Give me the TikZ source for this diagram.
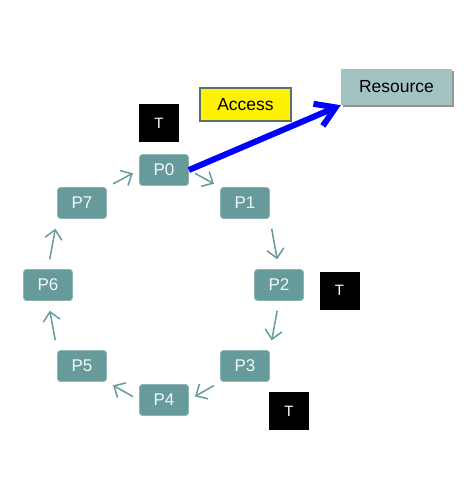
\documentclass[tikz,border=0pt]{standalone}
\usepackage{fontspec}
\setmainfont{Liberation Sans}
\definecolor{pteal}{RGB}{103,154,154}
\definecolor{pedge}{RGB}{140,180,180}
\definecolor{ptext}{RGB}{242,248,248}
\definecolor{resfill}{RGB}{163,194,194}
\definecolor{accedge}{RGB}{90,112,112}
\usetikzlibrary{positioning,shadows,arrows.meta}

\begin{document}
\begin{tikzpicture}[x=1pt,y=-1pt,
  pnode/.style={draw=pedge,line width=0.8pt,fill=pteal,text=ptext,rounded corners=3pt,
    minimum width=49pt,minimum height=31pt,font=\fontsize{17}{20}\selectfont},
  tnode/.style={fill=black,text=white,minimum width=40pt,minimum height=38pt,
    font=\fontsize{15}{18}\selectfont},
  resnode/.style={fill=resfill,minimum width=111pt,minimum height=36pt,
    font=\fontsize{17.5}{20}\selectfont,
    drop shadow={shadow xshift=2pt,shadow yshift=-2pt,opacity=0.6,fill=black!70}},
  accnode/.style={draw=accedge,line width=1.8pt,fill=yellow,minimum width=91pt,minimum height=33pt,
    font=\fontsize{17.5}{20}\selectfont},
  ring/.style={draw=pteal,line width=1.5pt,-{Straight Barb[length=9pt,width=17pt]}},
  access/.style={draw=blue,line width=6pt,-{Straight Barb[length=19pt,width=24pt]}}
]
\useasboundingbox (0,0) rectangle (475,480);

% Processes
\foreach \i/\x/\y in {0/164/170,1/245/203,2/279/285,3/245/366,
                      4/164/400,5/82/366,6/48/285,7/82/203}
  \node[pnode] (p\i) at (\x,\y) {P\i};

% Tokens
\node[tnode] (t0) at (159,123) {T};
\node[tnode] (t2) at (339.5,290.5) {T};
\node[tnode] (t3) at (289,411) {T};

% Resource
\node[resnode] (res) at (396.5,87) {Resource};
\node[accnode] (acc) at (245.5,104.5) {Access};

% Ring
\foreach \a/\b/\s in {p7.north east/p0.west/7pt,p0.east/p1.north west/7pt,
                      p1.south east/p2.north/10pt,p2.south/p3.north east/10pt,
                      p3.south west/p4.east/7pt,p4.west/p5.south east/7pt,
                      p5.north west/p6.south/10pt,p6.north/p7.south west/10pt}
  \draw[ring,shorten <=\s,shorten >=\s] (\a) -- (\b);

% Access
\draw[access] (p0.east) -- (res.south west);
\end{tikzpicture}
\end{document}
